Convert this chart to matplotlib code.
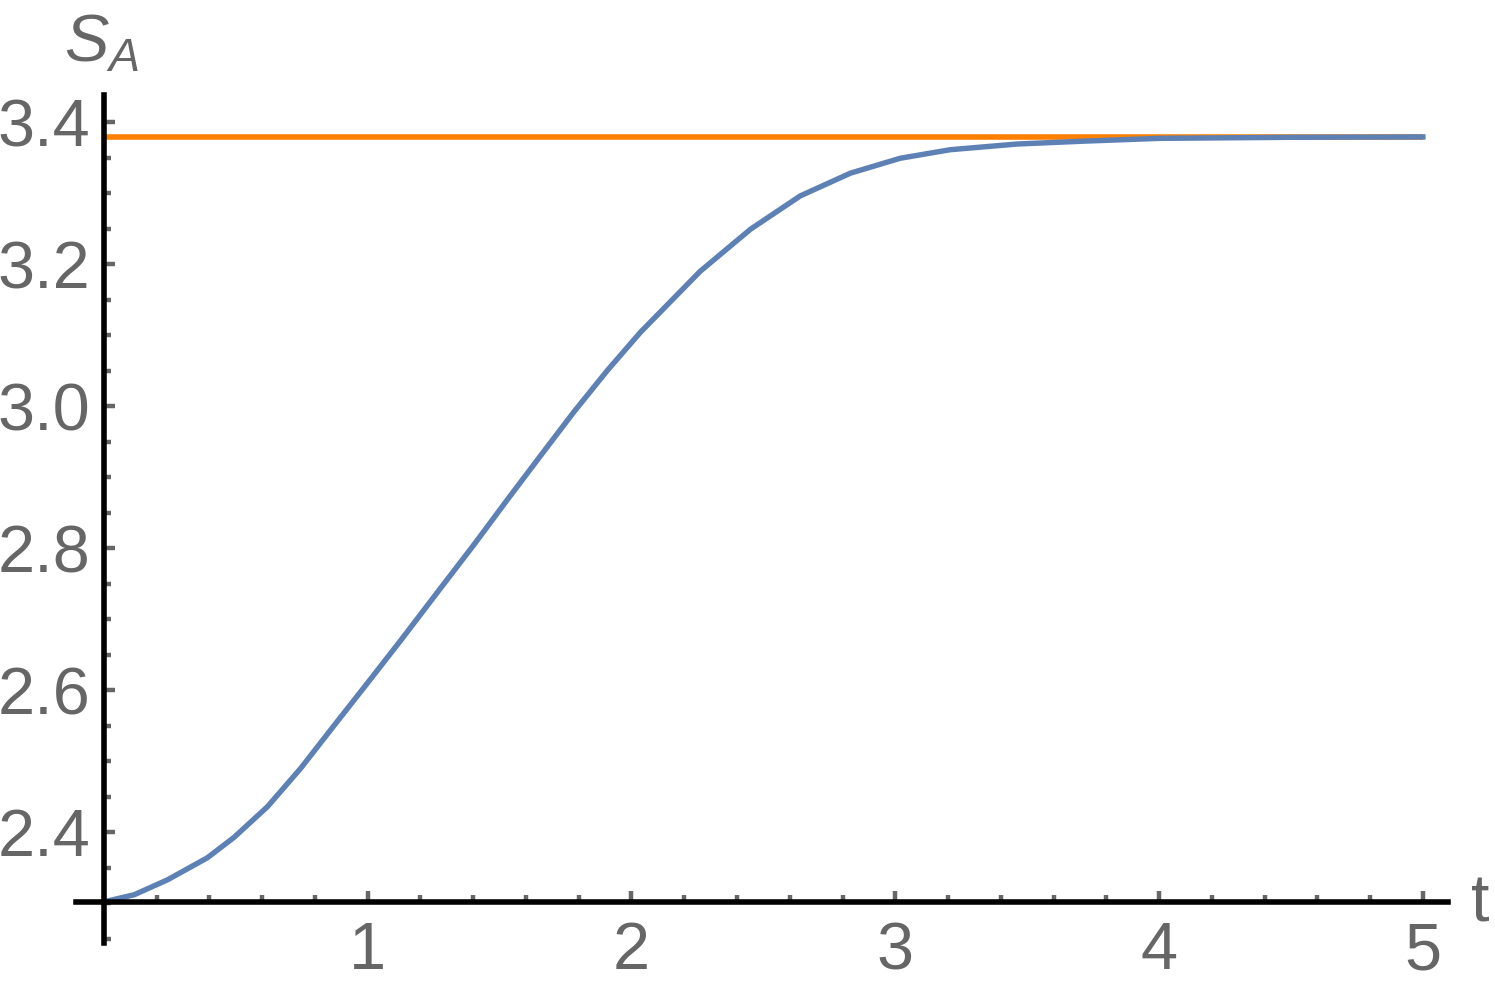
import numpy as np
import matplotlib
matplotlib.use("Agg")
import matplotlib.pyplot as plt
from matplotlib.ticker import MultipleLocator, FixedLocator

# values
t_vals = [0.0, 0.115, 0.241, 0.392, 0.494, 0.620, 0.746, 0.872, 0.999, 1.125,
          1.277, 1.403, 1.529, 1.655, 1.782, 1.908, 2.034, 2.261, 2.451, 2.640,
          2.830, 3.019, 3.208, 3.461, 3.710, 4.0, 4.5, 5.0]
s_a = [2.302, 2.312, 2.333, 2.364, 2.393, 2.436, 2.490, 2.550, 2.610, 2.670,
       2.744, 2.805, 2.868, 2.930, 2.992, 3.050, 3.104, 3.190, 3.249, 3.296,
       3.328, 3.349, 3.361, 3.369, 3.373, 3.377, 3.3785, 3.379]
s_limit = 3.379
t_range = [0.0, 5.0]

plt.rcParams["font.family"] = ["Liberation Sans", "DejaVu Sans"]
plt.rcParams["mathtext.fontset"] = "custom"
plt.rcParams["mathtext.it"] = "Liberation Sans:italic"
plt.rcParams["mathtext.rm"] = "Liberation Sans"

gray = "#666666"
fig = plt.figure(figsize=(14.95, 9.91), dpi=100)
ax = fig.add_axes([0.0508, 0.0484, 0.9177, 0.8557])

ax.plot(t_range, [s_limit, s_limit], color="#FF8000", lw=4.0, solid_capstyle="butt", zorder=3)
ax.plot(t_vals, s_a, color="#5E81B5", lw=3.9, solid_joinstyle="round", zorder=4)

ax.set_xlim(-0.106, 5.095)
ax.set_ylim(2.244, 3.438)

for s in ["top", "right"]:
    ax.spines[s].set_visible(False)
ax.spines["left"].set_position(("data", 0))
ax.spines["bottom"].set_position(("data", s_a[0]))
for s in ["left", "bottom"]:
    ax.spines[s].set_linewidth(4)
    ax.spines[s].set_color("black")
    ax.spines[s].set_zorder(5)

ax.xaxis.set_major_locator(FixedLocator([1, 2, 3, 4, 5]))
ax.xaxis.set_minor_locator(MultipleLocator(0.2))
ax.yaxis.set_major_locator(FixedLocator([2.4, 2.6, 2.8, 3.0, 3.2, 3.4]))
ax.yaxis.set_minor_locator(MultipleLocator(0.05))
ax.set_yticklabels(["2.4", "2.6", "2.8", "3.0", "3.2", "3.4"])

ax.tick_params(which="both", direction="in", color=gray, width=3.2, labelcolor=gray,
               labelsize=48)
ax.tick_params(which="major", length=8)
ax.tick_params(which="minor", length=5)
ax.tick_params(axis="x", which="major", pad=14)
ax.tick_params(axis="y", which="major", pad=10)

fig.text(0.043, 0.938, r"$S_A$", fontsize=48, color=gray)
fig.text(0.984, 0.070, "t", fontsize=48, color=gray, ha="left")

fig.savefig("out.png", dpi=100)
